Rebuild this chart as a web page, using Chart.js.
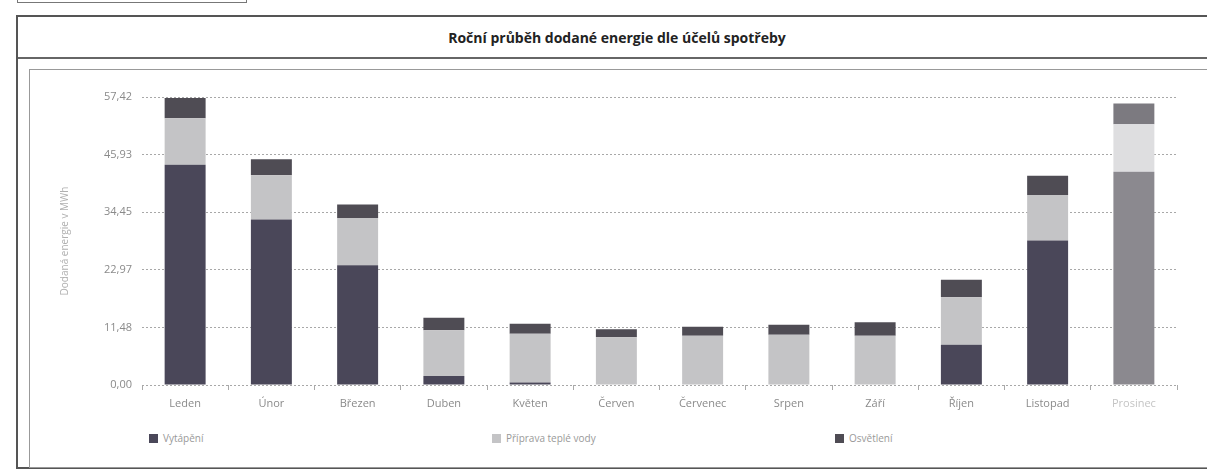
<!DOCTYPE html>
<html lang="cs">
<head>
<meta charset="utf-8">
<script src="https://cdn.jsdelivr.net/npm/chart.js@4.4.1/dist/chart.umd.min.js"></script>
<style>
  html, body { margin: 0; padding: 0; background: #fff; overflow: hidden; }
  body { width: 1207px; height: 470px; position: relative; font-family: "Open Sans", sans-serif; }
  #topbox { position: absolute; left: 17px; top: -10px; width: 228px; height: 12px; border: 1px solid #777; border-top: none; }
  #frame { position: absolute; left: 16px; top: 15px; width: 1300px; height: 450px; border: 2px solid #555; border-right: none; }
  #header { position: absolute; left: 0; top: 0; right: 0; height: 40px; border-bottom: 2px solid #666; }
  #title { position: absolute; width: 1200px; text-align: center; font-size: 14px; font-weight: bold; color: #222; }
  #panel { position: absolute; left: 29px; top: 69px; width: 1300px; height: 397px; border: 1px solid #999; border-right: none; }
  #chart-container { position: absolute; left: 30px; top: 70px; width: 1177px; height: 345px; }
  #legend { position: absolute; left: 149px; top: 431px; display: flex; font-size: 10px; color: #999; }
  .item { width: 343px; display: flex; align-items: center; }
  .box { width: 9px; height: 9px; margin-right: 5px; }
</style>
</head>
<body>
<div id="topbox"></div>
<div id="frame">
  <div id="header"></div>
</div>
<div id="title" style="left:17px;top:28px;">Roční průběh dodané energie dle účelů spotřeby</div>
<div id="panel"></div>
<div id="chart-container"><canvas id="chart"></canvas></div>
<div id="legend"></div>
<script>
const months = ['Leden', 'Únor', 'Březen', 'Duben', 'Květen', 'Červen', 'Červenec', 'Srpen', 'Září', 'Říjen', 'Listopad', 'Prosinec'];
const seriesNames = ['Vytápění', 'Příprava teplé vody', 'Osvětlení'];
const heating = [43.9, 33.0, 23.9, 1.8, 0.5, 0, 0, 0, 0, 8.0, 28.8, 42.5];
const hotWater = [9.3, 8.8, 9.4, 9.1, 9.7, 9.5, 9.8, 10.0, 9.8, 9.5, 9.1, 9.5];
const lighting = [4.0, 3.2, 2.7, 2.5, 2.0, 1.6, 1.8, 2.0, 2.7, 3.5, 3.8, 4.1];
const yTicks = [0, 11.48, 22.97, 34.45, 45.93, 57.42];

const colors = ['#4a4759', '#c4c4c6', '#4f4c54'];
const fadedColors = ['#8b898f', '#dedee0', '#7c7a80'];
const fadedIndex = 11;

function barColors(i) {
    return months.map((m, k) => k === fadedIndex ? fadedColors[i] : colors[i]);
}

const ctx = document.getElementById('chart').getContext('2d');
new Chart(ctx, {
    type: 'bar',
    data: {
        labels: months,
        datasets: [heating, hotWater, lighting].map((values, i) => ({
            label: seriesNames[i],
            data: values,
            backgroundColor: barColors(i),
            borderWidth: 0,
            categoryPercentage: 1,
            barPercentage: 0.475
        }))
    },
    options: {
        responsive: true,
        maintainAspectRatio: false,
        animation: false,
        layout: { padding: { top: 27, right: 30, bottom: 0, left: 0 } },
        plugins: {
            legend: { display: false },
            tooltip: { enabled: false }
        },
        scales: {
            x: {
                stacked: true,
                border: { display: false },
                grid: { drawOnChartArea: false, drawTicks: true, tickLength: 5, color: '#aaa' },
                ticks: {
                    padding: 7,
                    font: { family: 'Open Sans', size: 11 },
                    color: (c) => c.index === fadedIndex ? '#c4c4c4' : '#8a8a8a'
                },
                afterFit: (scale) => { scale.height = 30; }
            },
            y: {
                stacked: true,
                min: 0,
                max: yTicks[yTicks.length - 1],
                border: { display: false, dash: [2, 2] },
                grid: { drawTicks: false, color: '#a8a8a8', lineWidth: 1 },
                afterBuildTicks: (scale) => { scale.ticks = yTicks.map(v => ({ value: v })); },
                ticks: {
                    padding: 10,
                    font: { family: 'Open Sans', size: 11 },
                    color: '#8a8a8a',
                    callback: (v) => v.toFixed(2).replace('.', ',')
                },
                title: {
                    display: true,
                    text: 'Dodaná energie v MWh',
                    color: '#b0b0b0',
                    font: { family: 'Open Sans', size: 10 },
                    padding: { top: 29, bottom: 0 }
                },
                afterFit: (scale) => { scale.width = 112; }
            }
        }
    }
});

const legend = document.getElementById('legend');
seriesNames.forEach((name, i) => {
    const item = document.createElement('div');
    item.className = 'item';
    item.innerHTML = '<span class="box" style="background:' + colors[i] + '"></span>' + name;
    legend.appendChild(item);
});
</script>
</body>
</html>
